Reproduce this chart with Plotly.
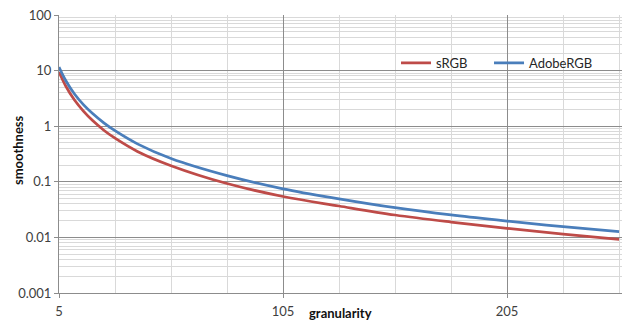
import plotly.graph_objects as go

granularity = [5, 8, 12, 16, 20, 25, 30, 40, 55, 80, 105, 130, 155, 180, 205, 230, 255]
srgb = [9.44, 5.28, 2.92, 1.85, 1.26, 0.847, 0.608, 0.352, 0.195, 0.0931, 0.0544, 0.0367,
        0.0253, 0.0189, 0.0146, 0.0115, 0.00924]
adobergb = [11.6, 6.64, 3.75, 2.42, 1.69, 1.15, 0.830, 0.481, 0.262, 0.129, 0.0749, 0.0494,
            0.0342, 0.0253, 0.0197, 0.0156, 0.0127]
y_ticks = [0.001, 0.01, 0.1, 1, 10, 100]
y_labels = ["0.001", "0.01", "0.1", "1", "10", "100"]

FONT = "Lato"
fig = go.Figure()
fig.add_trace(go.Scatter(x=granularity, y=srgb, name="sRGB", mode="lines", legend="legend",
                         line=dict(color="#BE4B48", width=2.75, shape="spline", smoothing=1)))
fig.add_trace(go.Scatter(x=granularity, y=adobergb, name="AdobeRGB", mode="lines",
                         legend="legend2",
                         line=dict(color="#4A7EBB", width=2.75, shape="spline", smoothing=1)))

leg_common = dict(orientation="h", xanchor="left", yanchor="middle",
                  bgcolor="rgba(0,0,0,0)", font=dict(size=13, color="#262626"),
                  itemwidth=30)
fig.update_layout(
    width=624, height=320,
    margin=dict(l=59, r=2, t=15, b=27),
    paper_bgcolor="white", plot_bgcolor="white",
    font=dict(family=FONT, size=13, color="#404040"),
    showlegend=True,
    legend=dict(x=0.5986, y=0.828, **leg_common),
    legend2=dict(x=0.7638, y=0.828, **leg_common),
    xaxis=dict(range=[5, 256.3], tick0=5, dtick=100, showgrid=True,
               gridcolor="#8c8c8c", gridwidth=1, zeroline=False,
               showline=True, linecolor="#8c8c8c", linewidth=1,
               ticks="outside", ticklen=4, tickcolor="#8c8c8c", ticklabelstandoff=2,
               minor=dict(dtick=25, tick0=5, showgrid=True, gridcolor="#d9d9d9", gridwidth=1)),
    yaxis=dict(type="log", range=[-3, 2], tickvals=y_ticks, ticktext=y_labels,
               showgrid=True, gridcolor="#8c8c8c", gridwidth=1, zeroline=False,
               showline=True, linecolor="#8c8c8c", linewidth=1,
               ticks="outside", ticklen=4, tickcolor="#8c8c8c",
               minor=dict(dtick="D1", showgrid=True, gridcolor="#d9d9d9", gridwidth=1)),
)
fig.add_annotation(text="<b>granularity</b>", xref="paper", yref="paper", x=0.5, y=0,
                   yshift=-20, showarrow=False, xanchor="center", yanchor="middle",
                   font=dict(size=13, color="#111111"))
fig.add_annotation(text="<b>smoothness</b>", xref="paper", yref="paper", x=0, y=0.5,
                   xshift=-41, yshift=4, showarrow=False, textangle=-90,
                   xanchor="center", yanchor="middle",
                   font=dict(size=13, color="#111111"))
fig.write_html("out.html")
